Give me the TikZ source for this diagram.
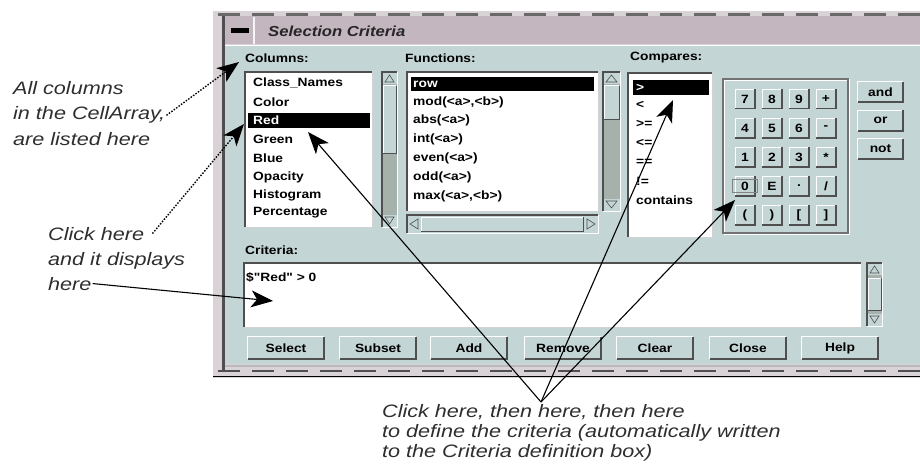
\documentclass[tikz,border=0pt]{standalone}
\usepackage{fontspec}
\setmainfont{Liberation Sans}
\newfontfamily\notefont[FakeStretch=1.2]{Liberation Sans}
\newfontfamily\uifont[FakeStretch=1.15]{Liberation Sans}
\usetikzlibrary{arrows.meta}

\definecolor{panel}{HTML}{C4D5D5}
\definecolor{titlebar}{HTML}{C3B6BF}
\definecolor{framebg}{HTML}{D9D2D6}
\definecolor{trough}{HTML}{A7B1AB}
\definecolor{edge}{HTML}{4F4F4F}
\definecolor{notegray}{HTML}{2E2E2E}

\tikzset{
  ui/.style={font=\uifont\bfseries\fontsize{12}{14}\selectfont, inner sep=0pt, text=black},
  item/.style={ui, anchor=west},
  pushbtn/.style={ui, fill=panel, minimum width=76pt, minimum height=22pt},
  keycap/.style={ui, fill=panel, minimum width=19pt, minimum height=19pt},
  sidebtn/.style={ui, fill=panel, minimum width=45pt, minimum height=20pt},
  note/.style={font=\notefont\itshape\fontsize{18}{20}\selectfont, text=notegray, inner sep=0pt, anchor=base west},
  pointer/.style={-{Stealth[length=22pt,width=17pt,inset=6pt]}, black, line width=1.1pt},
  dotptr/.style={pointer, dash pattern=on 1.5pt off 1.5pt, line width=1.4pt},
}

% raised bevel around a named button node
\newcommand{\bevelup}[1]{%
  \draw[white, line width=1.2pt] (#1.south west) -- (#1.north west) -- (#1.north east);
  \draw[edge, line width=1.6pt] (#1.north east) -- (#1.south east) -- (#1.south west);}

% sunken white list area: x1 y1 x2 y2
\newcommand{\whitewell}[4]{%
  \fill[white] (#1,#2) rectangle (#3,#4);
  \draw[edge, line width=2.4pt] (#1,#4) -- (#1,#2) -- (#3,#2);
  \draw[gray!35, line width=1pt] (#3,#2) -- (#3,#4) -- (#1,#4);}

% vertical scrollbar: x1 y1 x2 y2 thumb-top thumb-bottom
\newcommand{\vscroll}[6]{%
  \fill[trough] (#1,#2) rectangle (#3,#4);
  \fill[panel] (#1,#5) rectangle (#3,#6);
  \draw[white, line width=1pt] (#1+1,#6) -- (#1+1,#5) -- (#3-1,#5);
  \draw[edge, line width=1pt] (#3-0.5,#5) -- (#3-0.5,#6) -- (#1,#6);
  \fill[panel] (#1,#2) rectangle (#3,#2+12);
  \fill[panel] (#1,#4-12) rectangle (#3,#4);
  \draw[edge, line width=0.6pt] ({(#1+#3)/2},#2+3) -- (#1+3,#2+10) -- (#3-3,#2+10) -- cycle;
  \draw[edge, line width=0.6pt] ({(#1+#3)/2},#4-3) -- (#1+3,#4-10) -- (#3-3,#4-10) -- cycle;
  \draw[edge, line width=1.2pt] (#1,#4) -- (#1,#2) -- (#3,#2);
  \draw[white, line width=1pt] (#3,#2) -- (#3,#4) -- (#1,#4);}

% one key of the keypad: name x y label
\newcommand{\keybtn}[4]{\node[keycap] (#1) at (#2,#3) {#4}; \bevelup{#1}}

\begin{document}
\begin{tikzpicture}[x=1pt, y=-1pt]
\useasboundingbox (0,0) rectangle (920,468);

% ---------- window frame ----------
\fill[framebg] (213,11) rectangle (925,378);
\fill[titlebar] (224,16) rectangle (925,44);
\fill[panel] (225,46) rectangle (925,364);
\draw[edge, line width=2.5pt] (223.5,14) -- (223.5,370);
\draw[edge!85, line width=3pt, dash pattern=on 22pt off 12pt] (218,14.5) -- (925,14.5);
\draw[white, line width=1pt] (225,45.5) -- (925,45.5);
\draw[gray!55, line width=2pt] (225,366) -- (925,366);
\draw[edge, line width=2.5pt, dash pattern=on 22pt off 12pt] (218,371) -- (925,371);
\draw[black, line width=1.2pt] (213,376.5) -- (925,376.5);

% window menu button and title
\draw[white!85!titlebar, line width=1.5pt] (254,17) -- (254,44);
\fill[black] (231,28) rectangle (249,33);
\node[ui, anchor=west, font=\uifont\bfseries\itshape\fontsize{14.5}{16}\selectfont, text=black!85] (title) at (268,31) {Selection Criteria};

% ---------- section labels ----------
\node[item] (lblCols) at (245,58) {Columns:};
\node[item] (lblFuncs) at (405,58) {Functions:};
\node[item] (lblComp) at (630,58) {Compares:};
\node[item] (lblCrit) at (245,250) {Criteria:};

% ---------- columns list ----------
\whitewell{245}{72}{372}{227}
\fill[black] (248,113) rectangle (370,128);
\node[item] (cClass) at (253,83) {Class\_Names};
\node[item] (cColor) at (253,102) {Color};
\node[item, text=white] (cRed) at (253,120.5) {Red};
\node[item] (cGreen) at (253,139) {Green};
\node[item] (cBlue) at (253,158) {Blue};
\node[item] (cOpac) at (253,177) {Opacity};
\node[item] (cHist) at (253,195) {Histogram};
\node[item] (cPerc) at (253,213) {Percentage};
\vscroll{382}{72}{397}{227}{86}{153}

% ---------- functions list ----------
\whitewell{407}{72}{598}{211}
\fill[black] (411,77) rectangle (594,91);
\node[item, text=white] (fRow) at (413,84) {row};
\node[item] (fMod) at (413,102) {mod(<a>,<b>)};
\node[item] (fAbs) at (413,120) {abs(<a>)};
\node[item] (fInt) at (413,139) {int(<a>)};
\node[item] (fEven) at (413,158) {even(<a>)};
\node[item] (fOdd) at (413,177) {odd(<a>)};
\node[item] (fMax) at (413,196) {max(<a>,<b>)};
\vscroll{603}{72}{620}{211}{86}{120}
% horizontal scrollbar
\fill[panel] (407,215) rectangle (598,233);
\draw[white, line width=1pt] (421,231) -- (421,217) -- (583,217);
\draw[edge, line width=1pt] (583,217) -- (583,231) -- (421,231);
\draw[edge, line width=0.6pt] (410,224) -- (418,219) -- (418,229) -- cycle;
\draw[edge, line width=0.6pt] (595,224) -- (587,219) -- (587,229) -- cycle;
\draw[edge, line width=1.2pt] (407,233) -- (407,215) -- (598,215);
\draw[white, line width=1pt] (598,215) -- (598,233) -- (407,233);

% ---------- compares list ----------
\whitewell{628}{73}{712}{237}
\fill[black] (633,80) rectangle (709,95);
\node[item, text=white] (gt) at (636,87.5) {>};
\node[item] (lt) at (636,105) {<};
\node[item] (ge) at (636,124) {>=};
\node[item] (le) at (636,143) {<=};
\node[item] (eq) at (636,162) {==};
\node[item] (ne) at (636,181) {!=};
\node[item] (cont) at (636,200) {contains};

% ---------- keypad ----------
\draw[white, line width=1.2pt] (724.5,80) rectangle (849.5,234.5);
\draw[edge!80, line width=1.2pt] (723,79) rectangle (848,233);
\keybtn{k7}{745}{99}{7}   \keybtn{k8}{772}{99}{8}   \keybtn{k9}{799}{99}{9}   \keybtn{kPlus}{826}{99}{+}
\keybtn{k4}{745}{128}{4}  \keybtn{k5}{772}{128}{5}  \keybtn{k6}{799}{128}{6}  \keybtn{kMinus}{826}{128}{-}
\keybtn{k1}{745}{157}{1}  \keybtn{k2}{772}{157}{2}  \keybtn{k3}{799}{157}{3}  \keybtn{kTimes}{826}{157}{*}
\keybtn{k0}{745}{186}{0}  \keybtn{kE}{772}{186}{E}  \keybtn{kDot}{799}{186}{.}  \keybtn{kDiv}{826}{186}{/}
\keybtn{kLp}{745}{215}{(} \keybtn{kRp}{772}{215}{)} \keybtn{kLb}{799}{215}{[} \keybtn{kRb}{826}{215}{]}
\draw[edge!70, line width=0.8pt] ([shift={(-3,-3)}]k0.south west) rectangle ([shift={(3,3)}]k0.north east);

\node[sidebtn] (bAnd) at (880.5,92) {and}; \bevelup{bAnd}
\node[sidebtn] (bOr) at (880.5,120.5) {or}; \bevelup{bOr}
\node[sidebtn] (bNot) at (880.5,149) {not}; \bevelup{bNot}

% ---------- criteria area ----------
\whitewell{244}{263}{861}{327}
\node[item] (critText) at (246,277) {\$"Red" > 0};
\vscroll{867}{263}{882}{326}{278}{310}

% ---------- action buttons ----------
\node[pushbtn] (bSelect) at (286,348) {Select};  \bevelup{bSelect}
\node[pushbtn] (bSubset) at (378,348) {Subset};  \bevelup{bSubset}
\node[pushbtn] (bAdd) at (469,348) {Add};        \bevelup{bAdd}
\node[pushbtn] (bRemove) at (563,348) {Remove};  \bevelup{bRemove}
\node[pushbtn] (bClear) at (655,348) {Clear};    \bevelup{bClear}
\node[pushbtn] (bClose) at (748,348) {Close};    \bevelup{bClose}
\node[pushbtn] (bHelp) at (840,348) {Help};      \bevelup{bHelp}

% ---------- callout texts ----------
\node[note] (allA) at (13,95) {All columns};
\node[note] (allB) at (13,120) {in the CellArray,};
\node[note] (allC) at (13,145) {are listed here};
\node[note] (clkA) at (48,240) {Click here};
\node[note] (clkB) at (48,265) {and it displays};
\node[note] (clkC) at (48,290) {here};
\node[note] (botA) at (382,417) {Click here, then here, then here};
\node[note] (botB) at (382,437) {to define the criteria (automatically written};
\node[note] (botC) at (382,457) {to the Criteria definition box)};

% ---------- pointers ----------
\coordinate (tipCols) at (239,62);
\coordinate (tipRow) at (244,124);
\coordinate (tipCrit) at (273,301);
\coordinate (tipRed) at (308,132);
\coordinate (tipComp) at (673,100);
\coordinate (tipKey) at (735,200);
\coordinate (fan) at (541,402);

\draw[dotptr] ([xshift=1pt]allB.east) -- (tipCols);
\draw[dotptr] ([xshift=8pt]clkA.east) -- (tipRow);
\draw[pointer] ([xshift=1pt]clkC.east) -- (tipCrit);
\draw[pointer] (fan) -- (tipRed);
\draw[pointer] (fan) -- (tipComp);
\draw[pointer] (fan) -- (tipKey);
\end{tikzpicture}
\end{document}
